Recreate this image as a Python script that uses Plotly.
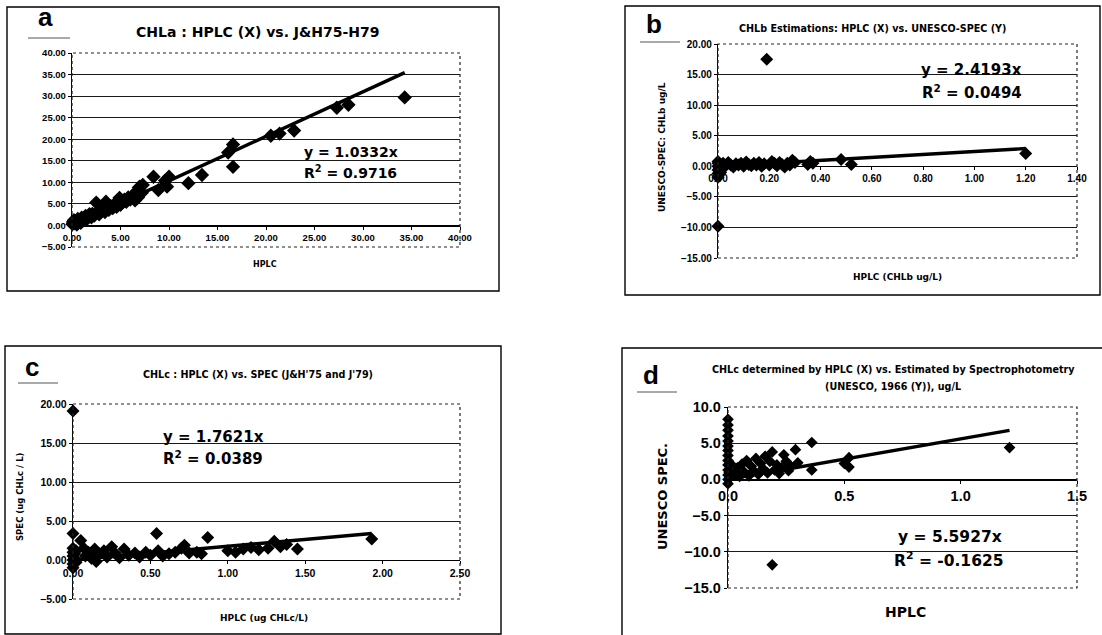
import plotly.graph_objects as go

W, H = 1102, 635
FONT = "Liberation Sans, Arial, sans-serif"
WIDE = "DejaVu Sans, Liberation Sans, sans-serif"

# ---------------- data ----------------
# Panel a: CHLa HPLC vs J&H75-H79
a_x = [0.05, 0.1, 0.2, 0.3, 0.4, 0.5, 0.6, 0.7, 0.8, 0.9, 1.0, 1.1, 1.3, 1.4, 1.5, 1.7, 1.8,
       2.0, 2.1, 2.3, 2.5, 2.6, 2.8, 3.0, 3.2, 3.4, 3.5, 3.6, 3.8, 4.0, 4.2, 4.4, 4.6, 4.8,
       4.9, 5.0, 5.2, 5.4, 5.6, 5.8, 6.0, 6.2, 6.4, 6.6, 6.7, 6.9, 7.0, 7.3, 6.5, 6.8, 7.2,
       8.4, 8.9, 9.8, 10.0, 9.6, 12.0, 13.4, 16.1, 16.6, 16.6, 20.5, 21.4, 22.9, 27.3, 28.5, 34.3]
a_y = [0.3, 0.8, 1.2, 0.5, 1.0, 0.2, 1.5, 0.9, 1.3, 0.6, 1.8, 1.1, 1.6, 2.2, 1.4, 2.0, 2.6,
       1.9, 2.7, 2.3, 5.3, 3.0, 2.6, 3.4, 3.9, 3.1, 5.5, 4.2, 3.6, 4.5, 4.0, 5.0, 4.3, 5.6,
       6.4, 4.8, 5.3, 6.0, 5.5, 6.5, 6.0, 6.8, 6.2, 7.5, 8.0, 8.8, 9.0, 9.4, 5.8, 6.5, 7.6,
       11.3, 8.2, 9.0, 11.3, 10.4, 9.8, 11.7, 16.9, 13.6, 18.8, 20.8, 21.3, 22.0, 27.3, 28.0, 29.7]
a_slope, a_r2 = 1.0332, "0.9716"

# Panel b: CHLb HPLC vs UNESCO-SPEC
b_x = [0, 0, 0, 0, 0, 0, 0, 0.005, 0.01, 0.01, 0.02, 0.03, 0.04, 0.05, 0.06, 0.07, 0.08,
       0.09, 0.10, 0.11, 0.12, 0.13, 0.14, 0.15, 0.16, 0.17, 0.18, 0.19, 0.20, 0.21, 0.22,
       0.23, 0.24, 0.25, 0.26, 0.27, 0.28, 0.29, 0.30, 0.35, 0.36, 0.37, 0.48, 0.52, 1.20]
b_y = [-9.8, -1.8, -1.2, -0.6, 0.0, 0.5, 0.8, -0.3, 0.3, -1.0, 0.5, 0.1, 0.6, 0.2, -0.1,
       0.4, 0.2, 0.5, 0.0, 0.7, 0.3, 0.1, 0.5, 0.2, 0.6, 0.0, 0.4, 17.5, 0.2, 0.8, 0.5, 0.1,
       0.6, 0.3, -0.1, 0.5, 0.2, 1.0, 0.6, 0.3, 0.8, 0.5, 1.1, 0.3, 2.1]
b_slope, b_r2 = 2.4193, "0.0494"

# Panel c: CHLc HPLC vs SPEC (J&H'75 and J'79)
c_x = [0, 0, 0, 0, 0, 0, 0, 0, 0.01, 0.01, 0.02, 0.02, 0.05, 0.07, 0.08, 0.10, 0.12, 0.14,
       0.15, 0.17, 0.20, 0.22, 0.25, 0.27, 0.30, 0.33, 0.36, 0.40, 0.43, 0.47, 0.50, 0.54,
       0.55, 0.58, 0.62, 0.66, 0.70, 0.72, 0.75, 0.80, 0.83, 0.87, 1.00, 1.05, 1.10, 1.15,
       1.20, 1.26, 1.30, 1.34, 1.38, 1.45, 1.93]
c_y = [19.1, 3.4, 1.5, 1.0, 0.5, 0.0, -0.5, -1.0, 0.8, 0.2, -0.3, 1.2, 2.5, 1.5, 0.5, 1.0,
       0.2, 1.4, -0.2, 0.8, 1.2, 0.4, 1.7, 0.9, 0.3, 1.4, 0.6, 0.9, 0.4, 1.0, 0.6, 3.4, 1.2,
       0.5, 0.8, 1.0, 1.5, 1.9, 0.9, 1.0, 0.8, 2.9, 1.2, 1.0, 1.4, 1.6, 1.3, 1.5, 2.4, 1.7,
       2.0, 1.4, 2.7]
c_slope, c_r2 = 1.7621, "0.0389"

# Panel d: CHLc HPLC vs UNESCO spectrophotometry
d_x = [0, 0, 0, 0, 0, 0, 0, 0, 0, 0, 0, 0, 0, 0, 0.005, 0.01, 0.01, 0.03, 0.04, 0.05, 0.06,
       0.07, 0.08, 0.09, 0.10, 0.11, 0.12, 0.13, 0.14, 0.15, 0.16, 0.17, 0.18, 0.19, 0.20,
       0.21, 0.22, 0.23, 0.24, 0.25, 0.26, 0.27, 0.29, 0.30, 0.36, 0.36, 0.50, 0.52, 0.52,
       0.19, 1.21]
d_y = [8.3, 7.5, 6.8, 6.0, 5.3, 4.6, 4.0, 3.3, 2.6, 2.0, 1.3, 0.6, 0.0, -0.6, 1.0, 2.2, 0.3,
       0.8, 1.6, 0.4, 2.1, 1.0, 2.6, 0.5, 1.8, 1.2, 2.9, 0.7, 2.2, 1.5, 3.2, 0.9, 2.5, 3.8,
       1.3, 2.0, 0.8, 1.6, 3.4, 2.5, 1.2, 1.8, 4.1, 2.3, 5.1, 1.3, 2.2, 3.0, 1.7, -11.8, 4.4]
d_slope, d_r2 = 5.5927, "-0.1625"


def fx(p):
    return p / W


def fy(p):
    return 1 - p / H


fig = go.Figure()
shapes, annos = [], []

panels = [
    dict(x=a_x, y=a_y, slope=a_slope, r2=a_r2, xr=[0, 40], yr=[-5, 40], dx=5, dy=5,
         fmt=".2f", dom=(72, 460, 53, 247), msize=11, tick=9.5),
    dict(x=b_x, y=b_y, slope=b_slope, r2=b_r2, xr=[0, 1.4], yr=[-15, 20], dx=0.2, dy=5,
         fmt=".2f", dom=(718, 1077, 44, 258), msize=10, tick=10),
    dict(x=c_x, y=c_y, slope=c_slope, r2=c_r2, xr=[0, 2.5], yr=[-5, 20], dx=0.5, dy=5,
         fmt=".2f", dom=(73, 460, 404, 599), msize=10, tick=10.5),
    dict(x=d_x, y=d_y, slope=d_slope, r2=d_r2, xr=[0, 1.5], yr=[-15, 10], dx=0.5, dy=5,
         fmt=".1f", dom=(728, 1077, 407, 588), msize=9, tick=14.5),
]

for i, p in enumerate(panels, start=1):
    sx = "" if i == 1 else str(i)
    x0, x1, y0, y1 = p["dom"]
    xd = [fx(x0), fx(x1)]
    yd = [fy(y1), fy(y0)]
    ylo, yhi = p["yr"]
    zero_pos = yd[0] + (0 - ylo) / (yhi - ylo) * (yd[1] - yd[0])
    n = round((yhi - ylo) / p["dy"])
    grid = [ylo + k * p["dy"] for k in range(1, n)]

    fig.add_trace(go.Scatter(x=p["x"], y=p["y"], mode="markers",
                             marker=dict(symbol="diamond", size=p["msize"], color="black",
                                         line=dict(width=0)),
                             xaxis="x" + sx, yaxis="y" + sx, showlegend=False,
                             cliponaxis=False, hoverinfo="skip"))
    xm = max(p["x"])
    fig.add_trace(go.Scatter(x=[0, xm], y=[0, p["slope"] * xm], mode="lines",
                             line=dict(color="black", width=3.4),
                             xaxis="x" + sx, yaxis="y" + sx, showlegend=False,
                             hoverinfo="skip"))

    tf = dict(family=FONT, size=p["tick"], color="black", weight="bold")
    fig.update_layout(**{
        "xaxis" + sx: dict(domain=xd, range=p["xr"], dtick=p["dx"], tick0=0,
                           tickformat=p["fmt"], anchor="free", position=zero_pos,
                           showline=True, linecolor="black", linewidth=1.2,
                           ticks="outside", ticklen=3, tickcolor="black",
                           showgrid=False, zeroline=False, tickfont=tf,
                           automargin=False, fixedrange=True),
        "yaxis" + sx: dict(domain=yd, range=p["yr"], dtick=p["dy"], tick0=0,
                           tickformat=p["fmt"], anchor="x" + sx,
                           showline=True, linecolor="black", linewidth=1.2,
                           ticks="outside", ticklen=3, tickcolor="black",
                           showgrid=False, zeroline=False, tickfont=tf,
                           automargin=False, fixedrange=True,
                           minor=dict(tickvals=grid, showgrid=True, gridcolor="#1a1a1a",
                                      gridwidth=1, ticks="")),
    })
    xref = ("x" + sx) + " domain"
    yref = ("y" + sx) + " domain"
    shapes.append(dict(type="rect", xref=xref, yref=yref, x0=0, x1=1, y0=0, y1=1,
                       line=dict(color="#222", width=1.2, dash="dot"), layer="above"))

# panel boxes
for (bx0, by0, bx1, by1) in [(7, 7, 499, 291), (625, 6, 1100, 295),
                              (5, 346, 501, 634), (622, 348, 1110, 645)]:
    shapes.append(dict(type="rect", xref="paper", yref="paper",
                       x0=fx(bx0), x1=fx(bx1), y0=fy(by1), y1=fy(by0),
                       line=dict(color="black", width=1.4), layer="below"))

# short rules under panel letters
for (lx0, lx1, ly) in [(28, 70, 38), (640, 680, 42), (18, 58, 383), (637, 677, 392)]:
    shapes.append(dict(type="line", xref="paper", yref="paper",
                       x0=fx(lx0), x1=fx(lx1), y0=fy(ly), y1=fy(ly),
                       line=dict(color="#555", width=1)))


def txt(text, x, y, size, xanchor="center", angle=0, family=WIDE):
    annos.append(dict(text=text, x=fx(x), y=fy(y), xref="paper", yref="paper",
                      xanchor=xanchor, yanchor="middle", showarrow=False, textangle=angle,
                      borderpad=0,
                      font=dict(family=family, size=size, color="black", weight="bold")))


# panel letters
txt("a", 45, 17, 26, family=FONT)
txt("b", 654, 24, 26, family=FONT)
txt("c", 32, 367, 26, family=FONT)
txt("d", 651, 375, 26, family=FONT)

# titles
txt("CHLa : HPLC (X) vs. J&amp;H75-H79", 258, 32, 14)
txt("CHLb Estimations: HPLC (X) vs. UNESCO-SPEC (Y)", 872, 28, 9.6)
txt("CHLc : HPLC (X) vs. SPEC (J&amp;H'75 and J'79)", 258, 374, 9.6)
txt("CHLc determined by HPLC (X) vs. Estimated by Spectrophotometry", 893, 369, 9.6)
txt("(UNESCO, 1966 (Y)), ug/L", 893, 386, 9.6)

# axis titles
txt("HPLC", 265, 264, 8)
txt("HPLC (CHLb ug/L)", 897, 277, 9)
txt("UNESCO-SPEC: CHLb ug/L", 662, 147, 9, angle=-90)
txt("HPLC (ug CHLc/L)", 264, 618, 9)
txt("SPEC (ug CHLc / L)", 20, 497, 8.5, angle=-90)
txt("HPLC", 905, 612, 14)
txt("UNESCO SPEC.", 662, 497, 13, angle=-90)

# equations
for p, (ex, ey, rx, ry, sz) in zip(panels, [(303, 152, 303, 172, 14),
                                            (920, 70, 921, 92, 15),
                                            (162, 437, 162, 458, 15),
                                            (897, 537, 893, 559, 15.5)]):
    txt("y = %.4fx" % p["slope"], ex, ey, sz, xanchor="left")
    txt("R<sup>2</sup> = " + p["r2"], rx, ry, sz, xanchor="left")

fig.update_layout(width=W, height=H,
                  margin=dict(l=0, r=0, t=0, b=0, pad=0, autoexpand=False),
                  paper_bgcolor="white", plot_bgcolor="rgba(0,0,0,0)",
                  shapes=shapes, annotations=annos, showlegend=False,
                  hovermode=False, dragmode=False)

fig.write_html("out.html",
               config={"displayModeBar": False, "staticPlot": True},
               post_script="document.body.style.margin='0';"
                           "document.body.style.overflow='hidden';")
